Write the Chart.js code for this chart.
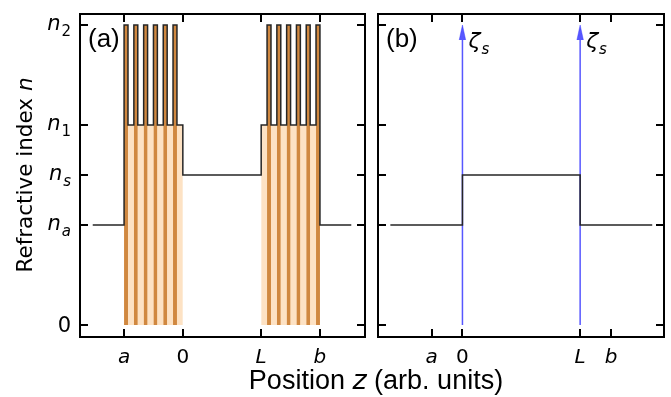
<!DOCTYPE html>
<html>
<head>
<meta charset="utf-8">
<script src="https://cdn.jsdelivr.net/npm/chart.js@4.4.1/dist/chart.umd.min.js"></script>
<style>
  body { margin: 0; background: #fff; }
  #wrap { position: relative; width: 671px; height: 397px; }
  canvas { position: absolute; top: 0; left: 0; }
</style>
</head>
<body>
<div id="wrap">
  <canvas id="cA" width="671" height="397"></canvas>
  <canvas id="cB" width="671" height="397"></canvas>
</div>
<script>
// refractive index levels (arb. units)
const nA = 1.0, nS = 1.5, n1 = 2.0, n2 = 3.0;
const yTicks = [0, nA, nS, n1, n2];
const yTickBase = ['0', 'n', 'n', 'n', 'n'];
const yTickSub = ['', 'a', 's', '1', '2'];

// x positions, panel (a)
const xTicksA = [-3, 0, 4, 7];
const xTickText = ['a', '0', 'L', 'b'];
const gratingLeft = [-3, 0];
const gratingRight = [4, 7];
const leftStripes = [-3, -2.5, -2, -1.5, -1, -0.5];
const rightStripes = [4.3, 4.8, 5.3, 5.8, 6.3, 6.8];
const stripeW = 0.2;
const outerA = [-4.6, 8.6];

// x positions, panel (b)
const xTicksB = [-1.05, 0, 4, 5.05];
const outerB = [-2.45, 6.45];
const arrowX = [0, 4];
const arrowBase = 2.85, arrowTip = 3.0, arrowHalf = 0.11;

const lineCol = '#262626';
const peach = '#fde2c4';
const peru = '#d08840';
const blue = 'rgba(40,40,255,0.78)';

// black step profile for (a)
function buildProfileA() {
  const pts = [{x: outerA[0], y: nA}, {x: gratingLeft[0], y: nA}];
  leftStripes.forEach(s => {
    pts.push({x: s, y: n1}, {x: s, y: n2}, {x: s + stripeW, y: n2}, {x: s + stripeW, y: n1});
  });
  pts.push({x: gratingLeft[1], y: n1}, {x: gratingLeft[1], y: nS});
  pts.push({x: gratingRight[0], y: nS}, {x: gratingRight[0], y: n1});
  rightStripes.forEach(s => {
    pts.push({x: s, y: n1}, {x: s, y: n2}, {x: s + stripeW, y: n2}, {x: s + stripeW, y: n1});
  });
  pts.push({x: gratingRight[1], y: nA}, {x: outerA[1], y: nA});
  return pts;
}

function buildStripes() {
  const pts = [];
  leftStripes.concat(rightStripes).forEach(s => {
    pts.push({x: s, y: n2}, {x: s + stripeW, y: n2}, {x: s + stripeW + 0.05, y: null});
  });
  return pts;
}

function subText(ctx, base, sub, x, y, align, size, baseItalic, subItalic) {
  const family = '"DejaVu Sans"';
  const bf = (baseItalic ? 'italic ' : '') + size + 'px ' + family;
  const sf = (subItalic ? 'italic ' : '') + Math.round(size * 0.7) + 'px ' + family;
  ctx.font = bf;
  const w1 = ctx.measureText(base).width;
  ctx.font = sf;
  const w2 = sub ? ctx.measureText(sub).width : 0;
  const tot = w1 + w2 + (sub ? 1 : 0);
  let x0 = x;
  if (align === 'right') x0 = x - tot;
  if (align === 'center') x0 = x - tot / 2;
  ctx.textAlign = 'left';
  ctx.textBaseline = 'alphabetic';
  ctx.font = bf;
  ctx.fillText(base, x0, y);
  if (sub) {
    ctx.font = sf;
    ctx.fillText(sub, x0 + w1 + 1, y + size * 0.28);
  }
}

function axesPlugin(xTicks, showY, tag) {
  return {
    id: 'axesBox',
    afterDraw(chart) {
      const {ctx, chartArea: ca, scales} = chart;
      ctx.save();
      ctx.strokeStyle = '#000';
      ctx.lineWidth = 2;
      ctx.strokeRect(ca.left, ca.top, ca.right - ca.left, ca.bottom - ca.top);
      const tl = 8;
      ctx.beginPath();
      xTicks.forEach(v => {
        const px = Math.round(scales.x.getPixelForValue(v));
        ctx.moveTo(px, ca.bottom); ctx.lineTo(px, ca.bottom - tl);
        ctx.moveTo(px, ca.top); ctx.lineTo(px, ca.top + tl);
      });
      yTicks.forEach(v => {
        const py = Math.round(scales.y.getPixelForValue(v));
        ctx.moveTo(ca.left, py); ctx.lineTo(ca.left + tl, py);
        ctx.moveTo(ca.right, py); ctx.lineTo(ca.right - tl, py);
      });
      ctx.stroke();

      ctx.fillStyle = '#000';
      xTicks.forEach((v, i) => {
        const px = scales.x.getPixelForValue(v);
        subText(ctx, xTickText[i], '', px, ca.bottom + 26, 'center', 20, xTickText[i] !== '0', false);
      });
      if (showY) {
        yTicks.forEach((v, i) => {
          const py = scales.y.getPixelForValue(v);
          const dy = yTickSub[i] ? 5 : 7;
          subText(ctx, yTickBase[i], yTickSub[i], ca.left - 9, py + dy, 'right', 21,
            yTickBase[i] === 'n', yTickSub[i] === 'a' || yTickSub[i] === 's');
        });
      }
      ctx.font = '26px "Liberation Sans"';
      ctx.textAlign = 'left';
      ctx.fillText(tag, ca.left + 8, ca.top + 33);
      ctx.restore();
    }
  };
}

const commonScales = (xMin, xMax) => ({
  x: {type: 'linear', min: xMin, max: xMax, display: false},
  y: {type: 'linear', min: -0.12, max: 3.11, display: false}
});
const commonOpts = {
  responsive: false,
  animation: false,
  events: [],
  plugins: {legend: {display: false}, tooltip: {enabled: false}},
  elements: {point: {radius: 0}, line: {tension: 0}}
};

// panel (a)
new Chart(document.getElementById('cA'), {
  type: 'line',
  data: {
    datasets: [
      {data: buildProfileA(), borderColor: lineCol, borderWidth: 1.5, fill: false},
      {data: buildStripes(), borderWidth: 0, borderColor: 'rgba(0,0,0,0)', backgroundColor: peru, fill: 'origin', spanGaps: false},
      {data: [{x: gratingLeft[0], y: n1}, {x: gratingLeft[1], y: n1}, {x: gratingLeft[1] + 0.1, y: null},
              {x: gratingRight[0], y: n1}, {x: gratingRight[1], y: n1}],
       borderWidth: 0, borderColor: 'rgba(0,0,0,0)', backgroundColor: peach, fill: 'origin', spanGaps: false}
    ]
  },
  options: Object.assign({}, commonOpts, {
    layout: {padding: {left: 80, right: 306, top: 14, bottom: 60}},
    scales: commonScales(-5.25, 9.3)
  }),
  plugins: [axesPlugin(xTicksA, true, '(a)'), {
    id: 'titles',
    afterDraw(chart) {
      const ctx = chart.ctx;
      ctx.save();
      ctx.fillStyle = '#000';
      // y-axis title
      ctx.translate(32, 175);
      ctx.rotate(-Math.PI / 2);
      ctx.font = '21.5px "DejaVu Sans"';
      const t = 'Refractive index ';
      const w1 = ctx.measureText(t).width;
      ctx.font = 'italic 21.5px "DejaVu Sans"';
      const w2 = ctx.measureText('n').width;
      ctx.textAlign = 'left';
      ctx.font = '21.5px "DejaVu Sans"';
      ctx.fillText(t, -(w1 + w2) / 2, 0);
      ctx.font = 'italic 21.5px "DejaVu Sans"';
      ctx.fillText('n', -(w1 + w2) / 2 + w1, 0);
      ctx.restore();

      // shared x-axis title
      ctx.save();
      ctx.fillStyle = '#000';
      ctx.font = '27px "Liberation Sans"';
      const a = 'Position ', c = ' (arb. units)';
      const wa = ctx.measureText(a).width, wc = ctx.measureText(c).width;
      ctx.font = 'italic 27px "DejaVu Sans"';
      const wb = ctx.measureText('z').width;
      const x0 = 376 - (wa + wb + wc) / 2;
      ctx.textAlign = 'left';
      ctx.font = '27px "Liberation Sans"';
      ctx.fillText(a, x0, 389);
      ctx.font = 'italic 27px "DejaVu Sans"';
      ctx.fillText('z', x0 + wa, 389);
      ctx.font = '27px "Liberation Sans"';
      ctx.fillText(c, x0 + wa + wb, 389);
      ctx.restore();
    }
  }]
});

// panel (b)
const arrowSets = [];
arrowX.forEach(x => {
  arrowSets.push({data: [{x: x, y: 0}, {x: x, y: arrowBase}], borderColor: blue, borderWidth: 1.5, fill: false});
  arrowSets.push({data: [{x: x - arrowHalf, y: arrowBase}, {x: x, y: arrowTip}, {x: x + arrowHalf, y: arrowBase}],
    borderColor: blue, borderWidth: 0.5, backgroundColor: blue, fill: 'shape'});
});

new Chart(document.getElementById('cB'), {
  type: 'line',
  data: {
    datasets: [
      {data: [{x: outerB[0], y: nA}, {x: 0, y: nA}, {x: 0, y: nS}, {x: 4, y: nS}, {x: 4, y: nA}, {x: outerB[1], y: nA}],
       borderColor: lineCol, borderWidth: 1.5, fill: false}
    ].concat(arrowSets)
  },
  options: Object.assign({}, commonOpts, {
    layout: {padding: {left: 378, right: 7, top: 14, bottom: 60}},
    scales: commonScales(-2.87, 6.85)
  }),
  plugins: [axesPlugin(xTicksB, false, '(b)'), {
    id: 'zetaLabels',
    afterDraw(chart) {
      const ctx = chart.ctx;
      ctx.save();
      ctx.fillStyle = '#000';
      arrowX.forEach(x => {
        const px = chart.scales.x.getPixelForValue(x);
        subText(ctx, '\u03b6', 's', px + 6, 48, 'left', 22, true, true);
      });
      ctx.restore();
    }
  }]
});
</script>
</body>
</html>
